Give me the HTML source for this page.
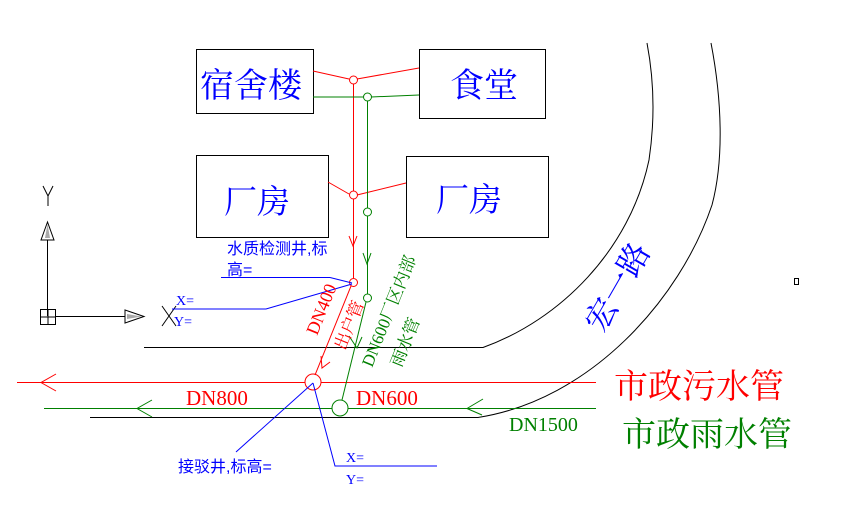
<!DOCTYPE html>
<html><head><meta charset="utf-8"><style>
html,body{margin:0;padding:0;background:#fff;}
svg{display:block;font-family:"Liberation Serif","Noto Serif CJK SC","Noto Sans CJK SC",serif;}
</style></head><body>
<svg width="844" height="520" viewBox="0 0 844 520" xmlns="http://www.w3.org/2000/svg">
<g fill="none" stroke="#000" stroke-width="1">
<rect x="196.5" y="49.5" width="117" height="64"/>
<rect x="419.5" y="49.5" width="126" height="69"/>
<rect x="196.5" y="155.5" width="132" height="82"/>
<rect x="406.5" y="156.5" width="142" height="81"/>
<path d="M144,347.5 L483,347.5 C560,320 630,250 649,160 C655,120 654,80 647,43"/>
<path d="M90,417.5 L478,417.5 C590,400 680,300 712,205 C724,160 722,100 711,43"/>
<line x1="47.5" y1="240" x2="47.5" y2="316"/>
<polygon points="47.5,222 41,240 54,240"/>
<rect x="40.5" y="309.5" width="15" height="15"/>
<line x1="48" y1="309" x2="48" y2="325"/><line x1="40" y1="317" x2="56" y2="317"/>
<line x1="55" y1="316.5" x2="125" y2="316.5"/>
<polygon points="144,316.5 125,310 125,323"/>
<path d="M43,186 L48,196 L53,186 M48,196 L48,206"/>
<path d="M162,306 L176,326 M176,306 L162,326"/>
<rect x="794.5" y="278.5" width="4" height="6"/>
</g>
<g fill="#aaa"><polygon points="47.5,224 45,238 50,238"/><polygon points="142,316.5 127,314 127,319"/></g>
<g fill="none" stroke="#f00" stroke-width="1">
<line x1="313" y1="71" x2="349" y2="79"/><line x1="357" y1="79" x2="419" y2="68"/>
<line x1="328" y1="182" x2="349" y2="194"/><line x1="357" y1="195" x2="406" y2="183"/>
<line x1="353.5" y1="84" x2="353.5" y2="191"/><line x1="353.5" y1="199" x2="353.5" y2="278"/>
<path d="M349,236 L353,246 L357,236"/>
<line x1="351" y1="286" x2="315" y2="375"/>
<path d="M321,356 L322,368 L330,362"/>
<circle cx="353.5" cy="80" r="4"/><circle cx="353.5" cy="195" r="4"/><circle cx="353.5" cy="282.5" r="4"/>
<circle cx="313" cy="382" r="8"/>
<line x1="17" y1="382.5" x2="305" y2="382.5"/><line x1="321" y1="382.5" x2="596" y2="382.5"/>
<path d="M56,374 L41,382.5 L56,391"/>
</g>
<g fill="none" stroke="#008000" stroke-width="1">
<line x1="313" y1="97" x2="363" y2="97"/><line x1="371" y1="97" x2="419" y2="95"/>
<line x1="367.5" y1="101" x2="367.5" y2="208"/><line x1="367.5" y1="216" x2="367.5" y2="294"/>
<path d="M363,253 L367,264 L371,253"/>
<line x1="366" y1="302" x2="342" y2="400"/>
<path d="M349,336 L357,348 L362,337"/>
<circle cx="367.5" cy="97" r="4"/><circle cx="367.5" cy="212" r="4"/><circle cx="367.5" cy="298" r="4"/>
<circle cx="340" cy="408" r="8"/>
<line x1="44" y1="408.5" x2="332" y2="408.5"/><line x1="348" y1="408.5" x2="596" y2="408.5"/>
<path d="M152,400 L137,408.5 L152,417"/>
<path d="M483,399 L467,408.5 L482,415"/>
</g>
<g fill="none" stroke="#00f" stroke-width="1">
<line x1="221" y1="277.5" x2="330" y2="277.5"/><line x1="330" y1="277.5" x2="352" y2="283"/>
<polyline points="172,309 266,309 352,284"/>
<line x1="236" y1="452" x2="313" y2="383"/>
<polyline points="313,383 335,466 437,466"/>
</g>
<g font-family="Liberation Serif,'Noto Serif CJK SC',serif">
<text x="200" y="97" font-size="34" fill="#00f">宿舍楼</text>
<text x="450" y="97" font-size="34" fill="#00f">食堂</text>
<text x="224" y="213" font-size="33" fill="#00f">厂房</text>
<text x="436" y="211" font-size="33" fill="#00f">厂房</text>
<text x="227" y="254" font-size="16" fill="#00f" font-family="'Liberation Sans','Noto Sans CJK SC',sans-serif">水质检测井,标</text>
<text x="227" y="275" font-size="16" fill="#00f" font-family="'Liberation Sans','Noto Sans CJK SC',sans-serif">高=</text>
<text x="176" y="305" font-size="14" fill="#00f">X=</text>
<text x="174" y="326" font-size="14" fill="#00f">Y=</text>
<text x="178" y="472" font-size="16" fill="#00f" font-family="'Liberation Sans','Noto Sans CJK SC',sans-serif">接驳井,标高=</text>
<text x="346" y="462" font-size="14" fill="#00f">X=</text>
<text x="346" y="484" font-size="14" fill="#00f">Y=</text>
<text x="186" y="405" font-size="21" fill="#f00">DN800</text>
<text x="356" y="405" font-size="21" fill="#f00">DN600</text>
<text x="509" y="431" font-size="20" fill="#008000">DN1500</text>
<text x="614" y="398" font-size="34" fill="#f00">市政污水管</text>
<text x="622" y="446" font-size="34" fill="#008000">市政雨水管</text>
<text transform="translate(317,336) rotate(-68)" font-size="18" fill="#f00">DN400</text>
<text transform="translate(345,351) rotate(-68)" font-size="17" fill="#f00">出户管</text>
<text transform="translate(372,368) rotate(-68)" font-size="17" fill="#008000">DN600厂区内部</text>
<text transform="translate(401,368) rotate(-68)" font-size="17" fill="#008000">雨水管</text>
<text transform="translate(603,334) rotate(-60)" font-size="32" fill="#00f">宏一路</text>
</g>
</svg>
</body></html>
